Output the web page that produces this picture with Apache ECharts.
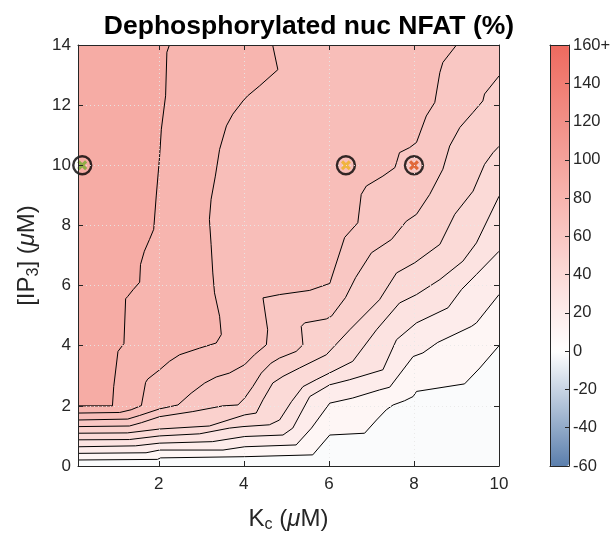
<!DOCTYPE html>
<html>
<head>
<meta charset="utf-8">
<script src="https://cdn.jsdelivr.net/npm/echarts@6/dist/echarts.min.js"></script>
<style>html,body{margin:0;padding:0;background:#fff}#c{width:611px;height:533px}</style>
</head>
<body>
<div id="c"></div>
<script>
// Contour levels (% dephosphorylated nuclear NFAT)
var levels = [10, 20, 30, 40, 50, 60, 70, 80, 90];
var backgroundLevel = -2;
// Contour lines, [Kc (uM), IP3 (uM)]
var c10 = [[0.1,0.2],[1.97,0.22],[2.04,0.27],[4.02,0.31],[5.62,0.37],[6.02,1.03],[6.84,1.09],[7.12,1.53],[7.35,1.87],[7.51,2.03],[7.78,2.17],[7.98,2.31],[8.06,2.48],[9.19,2.73],[9.55,3.26],[10,4.0]];
var c20 = [[0.1,0.42],[1.7,0.44],[2.02,0.53],[3.51,0.53],[4.02,0.64],[5.23,0.7],[5.59,1.26],[6.02,2.09],[6.56,2.26],[7.19,2.53],[7.43,2.62],[7.98,3.64],[8.21,3.76],[8.56,4.11],[9.35,4.64],[9.47,4.76],[10,5.7]];
var c30 = [[0.1,0.64],[1.45,0.67],[2.02,0.76],[3.26,0.81],[4.02,0.98],[4.92,1.03],[5.15,1.26],[5.55,2.31],[6.02,2.7],[6.49,2.87],[7.27,3.2],[7.59,4.2],[8.06,4.76],[8.8,5.26],[9.12,5.87],[9.47,6.37],[10,7.14]];
var c40 = [[0.1,0.87],[1.31,0.88],[2.02,1.0],[2.96,1.07],[3.66,1.26],[3.98,1.31],[4.6,1.37],[4.84,1.53],[5.12,2.14],[5.39,2.64],[5.7,2.87],[6.56,3.48],[7.12,4.53],[7.66,5.42],[8.06,5.7],[8.61,6.2],[9.15,6.81],[9.47,7.42],[10,8.97]];
var c50 = [[0.1,1.09],[1.26,1.1],[2.02,1.23],[3.19,1.33],[4.02,1.7],[4.29,1.76],[4.45,2.2],[4.68,2.76],[4.92,2.98],[5.31,3.26],[5.94,3.7],[6.49,4.53],[7.19,5.53],[7.59,6.42],[8.02,6.76],[8.61,7.37],[8.96,8.37],[9.39,9.14],[9.66,10.03],[9.86,10.42],[10,10.63]];
var c60 = [[0.1,1.31],[1.31,1.33],[1.59,1.44],[2.02,1.64],[2.8,1.81],[3.51,2.0],[3.86,2.03],[4.02,2.26],[4.21,2.64],[4.41,3.09],[4.64,3.42],[4.84,3.59],[5.23,3.81],[5.39,4.03],[5.35,4.64],[5.43,4.76],[5.94,4.89],[6.06,4.98],[6.39,5.6],[6.63,6.27],[7.0,7.09],[7.47,7.53],[7.82,8.14],[8.06,8.37],[8.37,9.03],[8.68,9.87],[8.84,10.64],[9.08,11.26],[9.39,11.76],[9.62,12.14],[9.66,12.37],[10,12.97]];
var c70 = [[0.1,1.53],[1.27,1.56],[1.55,1.68],[2.02,1.9],[2.45,2.03],[2.76,2.42],[3.08,2.76],[3.35,2.96],[3.66,3.09],[4.02,3.37],[4.25,3.7],[4.53,4.03],[4.56,4.53],[4.45,5.59],[4.84,5.7],[5.55,5.84],[6.02,6.07],[6.37,7.6],[6.68,8.09],[6.76,9.03],[6.88,9.31],[7.27,9.64],[7.55,9.92],[7.59,10.09],[7.66,10.42],[7.9,10.59],[8.06,10.76],[8.29,11.64],[8.49,12.09],[8.61,13.09],[8.68,13.42],[9.0,14]];
var c80 = [[0.1,1.76],[1.08,1.78],[1.35,1.87],[1.59,2.01],[1.69,2.78],[1.74,2.89],[2.02,3.2],[2.25,3.48],[2.49,3.7],[2.96,3.92],[3.35,4.09],[3.47,4.37],[3.43,4.98],[3.31,5.76],[3.27,6.42],[3.23,7.37],[3.19,8.2],[3.23,8.87],[3.33,9.64],[3.43,10.53],[3.59,11.31],[3.74,11.7],[3.98,12.14],[4.09,12.31],[4.37,12.64],[4.8,13.18],[4.68,13.98],[4.68,14]];
var c90 = [[0.1,2.0],[0.91,2.0],[0.94,2.64],[1.04,3.81],[1.18,4.07],[1.22,5.56],[1.27,5.64],[1.4,5.87],[1.55,6.11],[1.57,6.7],[1.66,7.14],[1.78,7.53],[1.88,7.87],[1.94,8.98],[2.02,10.31],[2.06,11.2],[2.16,12.31],[2.19,13.76],[2.25,14]];
var contours = [c10, c20, c30, c40, c50, c60, c70, c80, c90];
// Marked points
var markerK = [0.2, 6.4, 8.0];
var markerP = [10, 10, 10];
var markerColors = ['#77AC30', '#EDB120', '#D95319'];
// Axes
var kMin = 0.1, kMax = 10, pMin = 0, pMax = 14;
var cbMin = -60, cbMax = 160;
var cbColors = ['#5b7fad','#92aac8','#c8d4e4','#ffffff','#fdeceb','#fbdad7','#f9c7c3','#f7b5af','#f4a29b','#f28f87','#f07d73','#ee6a5f'];

var FONT = 'Liberation Sans, Arial, Helvetica, sans-serif';
var AX = '#262626';

// Region polygons: area on the high side (upper-left) of each contour
function closeRegion(pts) {
  var out = pts.slice();
  var last = pts[pts.length - 1];
  if (last[0] >= kMax && last[1] < pMax) out.push([kMax, pMax]);
  out.push([kMin, pMax]);
  return out;
}
var regions = [[[kMin, pMin], [kMax, pMin], [kMax, pMax], [kMin, pMax]]];
var regionData = [[backgroundLevel, 0]];
contours.forEach(function (c, i) {
  regions.push(closeRegion(c));
  regionData.push([levels[i], i + 1]);
});

var series = [{
  type: 'custom',
  coordinateSystem: 'cartesian2d',
  xAxisIndex: 0, yAxisIndex: 0,
  data: regionData,
  encode: {x: -1, y: -1},
  silent: true,
  z: 1,
  renderItem: function (params, api) {
    var poly = regions[params.dataIndex];
    var pts = poly.map(function (p) { return api.coord(p); });
    return {type: 'polygon', shape: {points: pts}, style: {fill: api.visual('color'), stroke: null}};
  }
}];
contours.forEach(function (c) {
  series.push({
    type: 'line', xAxisIndex: 0, yAxisIndex: 0, data: c, symbol: 'none', silent: true, z: 3,
    lineStyle: {color: '#000', width: 1}
  });
});
series.push({
  type: 'scatter', xAxisIndex: 0, yAxisIndex: 0, clip: false, z: 5, silent: true,
  data: markerK.map(function (k, i) { return [k, markerP[i]]; }),
  symbol: 'circle', symbolSize: 18,
  itemStyle: {color: 'rgba(0,0,0,0)', borderColor: '#000', borderWidth: 2.4}
});
series.push({
  type: 'scatter', xAxisIndex: 0, yAxisIndex: 0, clip: false, z: 6, silent: true,
  data: markerK.map(function (k, i) { return {value: [k, markerP[i]], itemStyle: {color: markerColors[i]}}; }),
  symbol: 'path://M0,2.2 L2.2,0 L5,2.8 L7.8,0 L10,2.2 L7.2,5 L10,7.8 L7.8,10 L5,7.2 L2.2,10 L0,7.8 L2.8,5 Z',
  symbolSize: 10
});

var tickCommon = {inside: true, length: 5, lineStyle: {color: AX, width: 1}};
var lineCommon = {show: true, onZero: false, lineStyle: {color: AX, width: 1}};
var labelCommon = {color: AX, fontSize: 17, fontFamily: FONT};
var gridLine = {show: true, lineStyle: {color: 'rgba(232,232,232,0.9)', width: 1, type: [1, 3]}};
var richName = {
  n: {fontSize: 24, fontFamily: FONT, color: AX},
  it: {fontSize: 24, fontFamily: FONT, color: AX, fontStyle: 'italic'},
  sub: {fontSize: 16, fontFamily: FONT, color: AX, padding: [11, 0, 0, 0]}
};

var option = {
  animation: false,
  backgroundColor: '#fff',
  title: {
    text: 'Dephosphorylated nuc NFAT (%)',
    left: 304, top: 8, textAlign: 'center',
    textStyle: {fontSize: 26.5, fontWeight: 'bold', color: '#000', fontFamily: FONT}
  },
  grid: [
    {left: 78, top: 45, width: 421, height: 421, containLabel: false, outerBoundsMode: 'none'},
    {left: 550, top: 45, width: 19, height: 421, containLabel: false, outerBoundsMode: 'none'}
  ],
  visualMap: {
    type: 'continuous', seriesIndex: 0, dimension: 0,
    min: cbMin, max: cbMax, calculable: false, show: true,
    orient: 'vertical', left: 550, top: 45, itemWidth: 19, itemHeight: 421, padding: 0,
    inRange: {color: cbColors}, hoverLink: false
  },
  xAxis: [
    {type: 'value', gridIndex: 0, position: 'bottom', min: kMin, max: kMax, splitNumber: 5, z: 10,
      axisLine: lineCommon, axisTick: tickCommon,
      axisLabel: Object.assign({margin: 10, showMinLabel: false}, labelCommon),
      splitLine: gridLine,
      name: '{n|K}{sub|c}{n| (}{it|μ}{n|M)}', nameLocation: 'middle', nameGap: 40,
      nameTextStyle: {rich: richName}},
    {type: 'value', gridIndex: 0, position: 'top', min: kMin, max: kMax, splitNumber: 5, z: 10,
      axisLine: lineCommon, axisTick: tickCommon, axisLabel: {show: false}, splitLine: {show: false}},
    {type: 'value', gridIndex: 1, position: 'bottom', min: 0, max: 1, z: 10,
      axisLine: lineCommon, axisTick: {show: false}, axisLabel: {show: false}, splitLine: {show: false}},
    {type: 'value', gridIndex: 1, position: 'top', min: 0, max: 1, z: 10,
      axisLine: lineCommon, axisTick: {show: false}, axisLabel: {show: false}, splitLine: {show: false}}
  ],
  yAxis: [
    {type: 'value', gridIndex: 0, position: 'left', min: pMin, max: pMax, interval: 2, z: 10,
      axisLine: lineCommon, axisTick: tickCommon,
      axisLabel: Object.assign({margin: 7}, labelCommon),
      splitLine: gridLine,
      name: '{n|[IP}{sub|3}{n|] (}{it|μ}{n|M)}', nameLocation: 'middle', nameGap: 36, nameRotate: 90,
      nameTextStyle: {rich: richName}},
    {type: 'value', gridIndex: 0, position: 'right', min: pMin, max: pMax, interval: 2, z: 10,
      axisLine: lineCommon, axisTick: tickCommon, axisLabel: {show: false}, splitLine: {show: false}},
    {type: 'value', gridIndex: 1, position: 'right', min: cbMin, max: cbMax, interval: 20, z: 10,
      axisLine: lineCommon, axisTick: {inside: true, length: 4, lineStyle: {color: AX}},
      axisLabel: {color: AX, fontSize: 16.5, fontFamily: FONT, margin: 4,
        formatter: function (v) { return v === cbMax ? cbMax + '+' : String(v); }},
      splitLine: {show: false}},
    {type: 'value', gridIndex: 1, position: 'left', min: cbMin, max: cbMax, interval: 20, z: 10,
      axisLine: lineCommon, axisTick: {show: false}, axisLabel: {show: false}, splitLine: {show: false}}
  ],
  series: series
};
var chart = echarts.init(document.getElementById('c'), null, {renderer: 'canvas'});
chart.setOption(option);
</script>
</body>
</html>
